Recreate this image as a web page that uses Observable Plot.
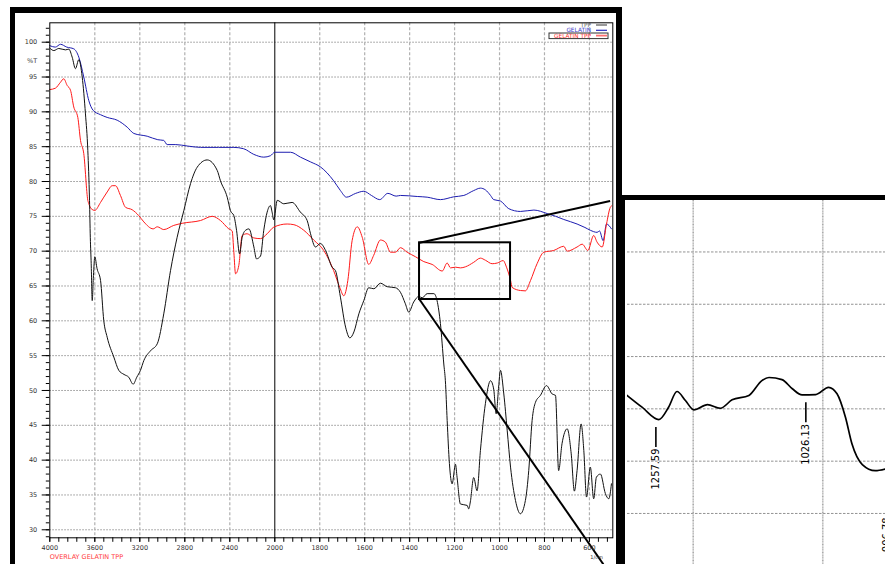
<!DOCTYPE html>
<html><head><meta charset="utf-8">
<script src="https://cdn.jsdelivr.net/npm/d3@7"></script>
<script src="https://cdn.jsdelivr.net/npm/@observablehq/plot@0.6"></script>
<style>
html,body{margin:0;padding:0;background:#fff;width:885px;height:564px;overflow:hidden;}
#wrap{position:relative;width:885px;height:564px;overflow:hidden;}
.bar{position:absolute;background:#000;}
#main{position:absolute;left:0;top:0;}
#inset{position:absolute;left:622px;top:195px;}
</style></head><body><div id="wrap">
<div id="main"></div><div id="inset"></div>
<div class="bar" style="left:10px;top:7px;width:612px;height:6px"></div>
<div class="bar" style="left:10px;top:7px;width:5px;height:557px"></div>
<div class="bar" style="left:616px;top:7px;width:6px;height:557px"></div>
<div class="bar" style="left:616px;top:195px;width:269px;height:5px"></div>
<div class="bar" style="left:616px;top:195px;width:9px;height:369px"></div>
</div>
<script>
// ---------- data ----------
const tppWn = [4000,3964,3920,3861,3831,3801,3772,3742,3712,3683,3662,3647,3640,3632,3623,3612,3600,3580,3549,3520,3490,3431,3387,3340,3298,3259,3227,3194,3164,3105,3045,2987,2927,2868,2809,2749,2690,2601,2512,2483,2423,2394,2364,2340,2313,2290,2260,2230,2186,2163,2127,2098,2068,2039,2024,2009,1989,1960,1923,1886,1856,1841,1819,1797,1774,1745,1730,1708,1685,1666,1648,1626,1604,1582,1559,1530,1500,1463,1441,1419,1404,1382,1359,1344,1322,1292,1278,1263,1248,1241,1233,1223,1211,1196,1189,1174,1144,1137,1130,1115,1100,1085,1063,1040,1026,1015,1004,996,981,966,951,929,907,885,870,855,840,818,791,766,751,737,722,699,681,667,655,637,625,613,596,581,569,551,529,514,502];
const tppT  = [99.15,98.8,99.1,98.9,99.0,97.85,96.2,97.5,95.0,89.7,84.45,77.3,72,68.2,62.9,66.5,69.2,67.5,65.8,60.0,57.65,54.8,52.9,52.3,51.9,50.9,51.9,52.9,54.3,55.7,56.7,61.0,67.2,72.0,75.8,79.7,82.05,83.1,81.6,80.1,77.75,75.8,75.1,73.0,69.6,72.0,73.0,73.2,70.6,68.9,69.3,73.0,75.6,76.55,75.6,74.5,77.3,76.8,77.0,75.6,74.4,72.5,70.6,71.1,70.1,67.7,67.2,63.4,59.1,57.55,58.4,61.0,62.9,64.75,64.6,65.4,64.9,64.75,64.1,62.45,61.25,62.7,63.5,63.3,63.9,63.9,62.9,59.6,53.8,51.4,45.7,39.5,36.6,39.4,37.55,33.7,33.5,33.0,34.0,37.5,35.6,41.4,48.1,51.4,50.2,46.65,50.5,52.9,49.5,44.3,39.0,34.2,32.3,34.2,38.5,45.7,48.3,49.3,50.7,49.5,49.3,38.5,42.35,44.5,40.9,35.55,38.5,45.2,41.4,34.7,39.0,34.45,37.55,38.0,35.2,34.45,36.6];

const gelWn = [4000,3950,3905,3850,3787,3742,3698,3653,3614,3550,3490,3401,3312,3253,3134,3040,2987,2957,2880,2779,2660,2500,2364,2276,2187,2098,2039,2000,1930,1886,1840,1797,1738,1708,1681,1640,1604,1570,1533,1497,1460,1441,1366,1322,1263,1204,1159,1115,1085,1063,1040,1026,996,959,907,847,788,750,714,655,620,596,566,555,539,524,502];
const gelT  = [99.5,99.3,99.7,99.3,99.05,97.85,95.0,91.6,90.2,89.6,89.2,88.8,87.8,86.9,86.5,86.0,85.9,85.3,85.3,85.1,84.9,84.9,84.9,84.7,83.9,83.5,83.7,84.2,84.2,83.5,82.8,82.1,80.1,78.7,77.75,78.3,78.6,78.0,77.4,78.3,77.9,78.0,77.85,77.75,77.4,77.8,78.0,78.7,79.05,78.8,78.0,77.4,77.2,76.1,75.7,75.9,75.4,75.0,74.55,73.9,73.4,73.0,72.7,72.9,71.5,73.9,73.2];

const gtWn = [4000,3950,3905,3876,3846,3816,3787,3751,3727,3698,3662,3653,3632,3600,3549,3490,3445,3416,3372,3327,3268,3209,3164,3081,3045,2987,2898,2823,2660,2556,2483,2409,2379,2364,2349,2320,2290,2246,2187,2127,2068,2009,1945,1915,1871,1827,1782,1738,1711,1693,1675,1656,1633,1611,1582,1560,1530,1508,1485,1463,1441,1411,1374,1337,1300,1255,1233,1218,1196,1174,1152,1115,1085,1063,1033,1010,984,969,951,944,907,885,862,833,803,759,714,699,655,632,607,581,566,543,524,507,502];
const gtT  = [93.2,93.4,94.25,94.75,93.8,93.1,90.7,89.2,85.9,84.0,77.3,76.8,76.1,75.85,77.0,78.5,79.4,79.4,78.0,76.3,75.95,75.1,74.2,73.2,73.5,73.1,73.7,74.0,74.4,75.0,74.4,73.2,72.9,69.85,66.75,67.95,72.25,72.5,71.9,71.8,72.5,73.45,73.9,73.8,73.0,71.6,70.1,67.2,64.8,63.6,65.8,71.5,73.5,72.0,68.1,69.4,71.6,71.3,69.85,69.85,70.5,69.85,69.2,68.5,68.1,67.15,68.3,67.6,67.7,67.6,67.75,68.4,69.0,68.7,68.2,68.3,68.65,67.7,65.8,64.8,64.35,64.3,65.8,68.2,69.85,70.1,70.7,70.0,70.6,71.0,70.1,72.25,71.3,70.6,73.9,76.3,76.5];

// inset (expanded view of the boxed region)
const insetWn = [1302,1279,1253,1238,1225,1212,1199,1178,1158,1140,1114,1094,1083,1063,1047,1032,1011,991,978,965,955,939,919,903];
const insetT  = [68.14,67.58,66.99,67.58,68.33,67.9,67.45,67.7,67.53,67.93,68.14,68.85,69.0,68.9,68.46,68.17,68.18,68.53,68.22,67.1,65.83,64.84,64.55,64.63];
const peakWn = [1257.59, 1026.13, 902];
const peakT  = [66.99, 68.17, 63.7];
const peakLabels = ["1257.59", "1026.13", "906.78"];

// zoom box on the main chart
const boxWn = [1356, 951];
const boxT  = [63.06, 71.2];
const linkEndWn = [508, 538];
const linkEndT  = [77.2, 25.05];

// ticks
const xLabelTicks = [4000,3600,3200,2800,2400,2000,1800,1600,1400,1200,1000,800,600];
const xGridTicks = [3600,3200,2800,2400,1800,1600,1400,1200,1000,800,600];
const yLabelTicks = [30,35,40,45,50,55,60,65,70,75,80,85,90,95,100];
const insetGridT = [62.5,65,67.5,70,72.5,75];
const insetGridWn = [1200,1000];

const seriesNames = ["TPP","GELATIN","GELATIN TPP"];
const seriesColors = ["#111111","#1c1cb0","#ff1a1a"];
const legendTextColors = ["#666666","#3838c8","#ff3030"];
const legendSwatchColors = ["#555555","#2828c0","#ff7070"];

// ---------- build ----------
const toRows = (wn, t, s) => wn.map((w,i)=>({wn:w, t:t[i], s}));
const rows = [
  ...toRows(gelWn, gelT, "GELATIN"),
  ...toRows(gtWn, gtT, "GELATIN TPP"),
  ...toRows(tppWn, tppT, "TPP")
];
const xMinor = [...d3.range(4000, 2000, -80), ...d3.range(2000, 500, -40)];
const yMinor = d3.range(29, 103, 1);

const W = 622, H = 564;
const mL = 49.3, mT = 22.3, mR = W - 612.3, mB = H - 537.3;

const main = Plot.plot({
  width: W, height: H,
  marginLeft: mL, marginTop: mT, marginRight: mR, marginBottom: mB,
  style: {background: "transparent", fontFamily: "DejaVu Sans", overflow: "visible"},
  x: {type: "linear", domain: [4000, 2000, 496], range: [mL, 274.3, W - mR]},
  y: {domain: [28.85, 102.785], range: [H - mB, mT]},
  color: {domain: seriesNames, range: seriesColors},
  marks: [
    Plot.gridY({ticks: yLabelTicks, stroke: "#777", strokeOpacity: 1, strokeDasharray: "1.5,1.5", strokeWidth: 0.8}),
    Plot.gridX({ticks: xGridTicks, stroke: "#b0b0b0", strokeOpacity: 1, strokeDasharray: "3,2", strokeWidth: 1.2}),
    Plot.ruleX([2000], {stroke: "black", strokeWidth: 1}),
    Plot.line(rows, {x: "wn", y: "t", z: "s", stroke: "s", strokeWidth: 1, curve: "monotone-x"}),
    Plot.rect([0], {x1: () => boxWn[0], x2: () => boxWn[1], y1: () => boxT[0], y2: () => boxT[1], fill: "none", stroke: "black", strokeWidth: 2}),
    Plot.link([0,1], {x1: () => boxWn[0], y1: i => boxT[i === 0 ? 1 : 0], x2: i => linkEndWn[i], y2: i => linkEndT[i], stroke: "black", strokeWidth: 2}),
    Plot.frame({stroke: "black", strokeWidth: 1}),
    Plot.axisY({ticks: yMinor, tickSize: 3.5, tickFormat: () => "", label: null, stroke: "black"}),
    Plot.axisY({ticks: yLabelTicks, tickSize: 7.6, tickPadding: 5, tickFormat: d => String(d), label: null, stroke: "black", fill: "#333", fontSize: 6.5}),
    Plot.axisX({ticks: xMinor, tickSize: 4.5, tickFormat: () => "", label: null, stroke: "black"}),
    Plot.axisX({ticks: xLabelTicks, tickSize: 4.5, tickPadding: 3, tickFormat: d => String(d), label: null, stroke: "black", fill: "#333", fontSize: 6.5}),
    Plot.text(["%T"], {frameAnchor: "top-left", dx: -12.6, dy: 36, textAnchor: "end", fill: "#444", fontSize: 6.5}),
    Plot.text(["OVERLAY GELATIN TPP"], {frameAnchor: "bottom-left", dy: 21, textAnchor: "start", fill: "#ff3b3b", fontSize: 6.5}),
    Plot.text(["1/cm"], {frameAnchor: "bottom-right", dx: -10, dy: 21, fill: "#333", fontSize: 5})
  ]
});
document.getElementById("main").appendChild(main);

// in-plot legend (top right)
const svg = d3.select(main.tagName.toLowerCase() === "svg" ? main : main.querySelector("svg"));
const lg = svg.append("g").attr("font-family", "DejaVu Sans").attr("font-size", 5.8);
seriesNames.forEach((n, i) => {
  const y = 25 + i * 5.3;
  lg.append("text").attr("x", 591).attr("y", y).attr("dy", "0.35em").attr("text-anchor", "end").attr("fill", legendTextColors[i]).text(n);
  lg.append("line").attr("x1", 596).attr("x2", 607).attr("y1", y).attr("y2", y).attr("stroke", legendSwatchColors[i]).attr("stroke-width", i === 2 ? 1.8 : 1.2);
});
lg.append("rect").attr("x", 549).attr("y", 33).attr("width", 59).attr("height", 5.6).attr("fill", "none").attr("stroke", "#333").attr("stroke-width", 1);

// ---------- inset ----------
const iPx = 20.92; // px per %T in the inset
const insetRows = insetWn.map((w,i)=>({wn:w, t:insetT[i]}));
const peaks = peakWn.map((w,i)=>({wn:w, t:peakT[i], label:peakLabels[i]}));
const inset = Plot.plot({
  width: 263, height: 369,
  marginLeft: 5, marginTop: 5, marginRight: 0, marginBottom: 0,
  style: {background: "transparent", overflow: "hidden"},
  x: {domain: [1301.4, 903.2], range: [5, 263], axis: null},
  y: {domain: [60.06, 77.46], range: [369, 5], axis: null},
  marks: [
    Plot.gridY({ticks: insetGridT, stroke: "#777", strokeOpacity: 1, strokeDasharray: "2.5,1.5", strokeWidth: 0.8}),
    Plot.gridX({ticks: insetGridWn, stroke: "#aaa", strokeOpacity: 1, strokeDasharray: "1,0.6", strokeWidth: 1.6}),
    Plot.line(insetRows, {x: "wn", y: "t", stroke: "black", strokeWidth: 1.7, curve: "monotone-x", clip: true}),
    Plot.ruleX(peaks, {x: "wn", y1: d => d.t - 8 / iPx, y2: d => d.t - 28 / iPx, stroke: "black", strokeWidth: 1.6}),
    Plot.text(peaks, {x: "wn", y: d => d.t - 29 / iPx, text: "label", rotate: -90, textAnchor: "end", fill: "black",
      fontSize: 11, fontFamily: "Liberation Sans Narrow, DejaVu Sans Condensed, sans-serif"})
  ]
});
document.getElementById("inset").appendChild(inset);
</script></body></html>
